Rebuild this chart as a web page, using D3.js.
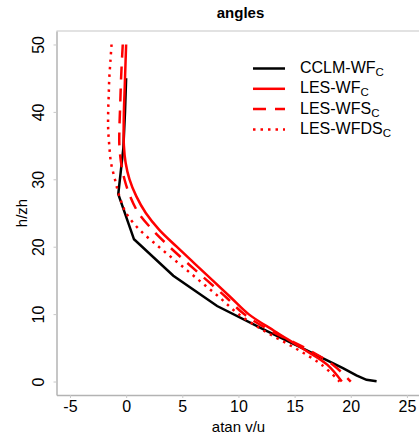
<!DOCTYPE html>
<html>
<head>
<meta charset="utf-8">
<script src="https://cdn.jsdelivr.net/npm/d3@7"></script>
<style>
	body { margin: 0; background: #fff; }
	svg { display: block; font-family: "Liberation Sans", Arial, sans-serif; }
</style>
</head>
<body>
<div id="chart"></div>
<script>
// CCLM levels (h/zh) and angles
const cclmH = [45, 40, 34.6, 27.8, 21.1, 15.7, 11.2, 7.5, 5.1, 2.0, 0.9, 0.25, 0.05];
const cclmV = [0.0, -0.1, -0.25, -0.7, 0.7, 4.2, 8.1, 12.5, 15.5, 19.3, 20.5, 21.4, 22.3];

// LES levels shared by the three red series
const lesH = [50, 47.5, 45, 42.5, 40, 37.5, 35, 32.5, 30, 27.5, 25, 22.5, 20, 17.5, 15, 12.5, 10, 7.5, 5, 2.5, 0];
const wfV = [0.0, -0.05, -0.1, -0.15, -0.2, -0.22, -0.2, -0.05, 0.3, 0.9, 1.75, 2.95, 4.5, 6.1, 7.7, 9.3, 10.9, 13.2, 15.6, 17.9, 19.2];
const wfsV = [-0.3, -0.38, -0.45, -0.5, -0.55, -0.6, -0.6, -0.45, -0.15, 0.35, 1.1, 2.35, 3.85, 5.5, 7.2, 8.9, 10.5, 12.9, 15.9, 18.4, 20.0];
const wfdsV = [-1.3, -1.4, -1.5, -1.55, -1.6, -1.6, -1.5, -1.35, -1.0, -0.6, 0.0, 1.2, 2.9, 4.7, 6.5, 8.3, 10.0, 12.3, 15.0, 17.4, 19.0];

const xTicks = [-5, 0, 5, 10, 15, 20, 25];
const yTicks = [0, 10, 20, 30, 40, 50];

const seriesNames = ['CCLM-WF', 'LES-WF', 'LES-WFS', 'LES-WFDS'];
const seriesColors = ['black', 'red', 'red', 'red'];
const seriesDash = [null, null, '13,9', '2.5,5'];

const W = 419, H = 437;
const svg = d3.select('#chart').append('svg').attr('width', W).attr('height', H);

const x = d3.scaleLinear().domain([-6.2, 26.2]).range([56.5, 420.4]);
const y = d3.scaleLinear().domain([-2, 52]).range([395, 31]);

// frame: top line lighter
svg.append('line')
	.attr('x1', x.range()[0]).attr('x2', W)
	.attr('y1', y.range()[1]).attr('y2', y.range()[1])
	.style('stroke', '#d9d9d9').style('stroke-width', 1.5);

// x axis
const gx = svg.append('g')
	.attr('transform', 'translate(0,' + y.range()[0] + ')')
	.call(d3.axisBottom(x).tickValues(xTicks).tickSize(3).tickSizeOuter(0));
gx.select('.domain').style('stroke', '#b3b3b3').style('stroke-width', 1.5);
gx.selectAll('.tick line').style('stroke', '#c8c8c8');
gx.selectAll('.tick text')
	.attr('y', 17).attr('dy', 0)
	.style('font-size', '16px').style('fill', '#000')
	.text((d) => d < 0 ? '-' + Math.abs(d) : d);

// y axis
const gy = svg.append('g')
	.attr('transform', 'translate(' + x.range()[0] + ',0)')
	.call(d3.axisLeft(y).tickValues(yTicks).tickSize(3).tickSizeOuter(0));
gy.select('.domain').style('stroke', '#b3b3b3').style('stroke-width', 1.5);
gy.selectAll('.tick line').style('stroke', '#c8c8c8');
gy.selectAll('.tick text')
	.attr('x', 0).attr('y', -12.5).attr('dy', 0)
	.attr('transform', 'rotate(-90)')
	.style('text-anchor', 'middle')
	.style('font-size', '16px').style('fill', '#000');

// lines
const line = d3.line()
	.x((d) => x(d[0]))
	.y((d) => y(d[1]));

const lesSmooth = d3.line()
	.x((d) => x(d[0]))
	.y((d) => y(d[1]))
	.curve(d3.curveCatmullRom);

const plotData = [
	{ pts: cclmH.map((h, i) => [cclmV[i], h]), gen: line },
	{ pts: lesH.map((h, i) => [wfV[i], h]), gen: lesSmooth },
	{ pts: lesH.map((h, i) => [wfsV[i], h]), gen: lesSmooth },
	{ pts: lesH.map((h, i) => [wfdsV[i], h]), gen: lesSmooth }
];

plotData.forEach((s, i) => {
	svg.append('path')
		.attr('d', s.gen(s.pts))
		.style('fill', 'none')
		.style('stroke', seriesColors[i])
		.style('stroke-width', 2.5)
		.style('stroke-dasharray', seriesDash[i]);
});

// legend
const legend = svg.append('g');
seriesNames.forEach((name, i) => {
	const base = 73 + i * 20.3;
	legend.append('line')
		.attr('x1', 253).attr('x2', 285)
		.attr('y1', base - 4.5).attr('y2', base - 4.5)
		.style('stroke', seriesColors[i])
		.style('stroke-width', 2.5)
		.style('stroke-dasharray', seriesDash[i]);
	const t = legend.append('text')
		.attr('x', 300).attr('y', base)
		.style('font-size', '16px');
	t.append('tspan').text(name);
	t.append('tspan').attr('dy', 3).style('font-size', '11.5px').text('C');
});

// titles
svg.append('text')
	.attr('x', 240.5).attr('y', 18)
	.style('text-anchor', 'middle')
	.style('font-size', '15px').style('font-weight', 'bold')
	.text('angles');

svg.append('text')
	.attr('x', 238.5).attr('y', 432)
	.style('text-anchor', 'middle')
	.style('font-size', '15px')
	.text('atan v/u');

svg.append('text')
	.attr('transform', 'translate(26.5,213) rotate(-90)')
	.style('text-anchor', 'middle')
	.style('font-size', '15px')
	.text('h/zh');
</script>
</body>
</html>
